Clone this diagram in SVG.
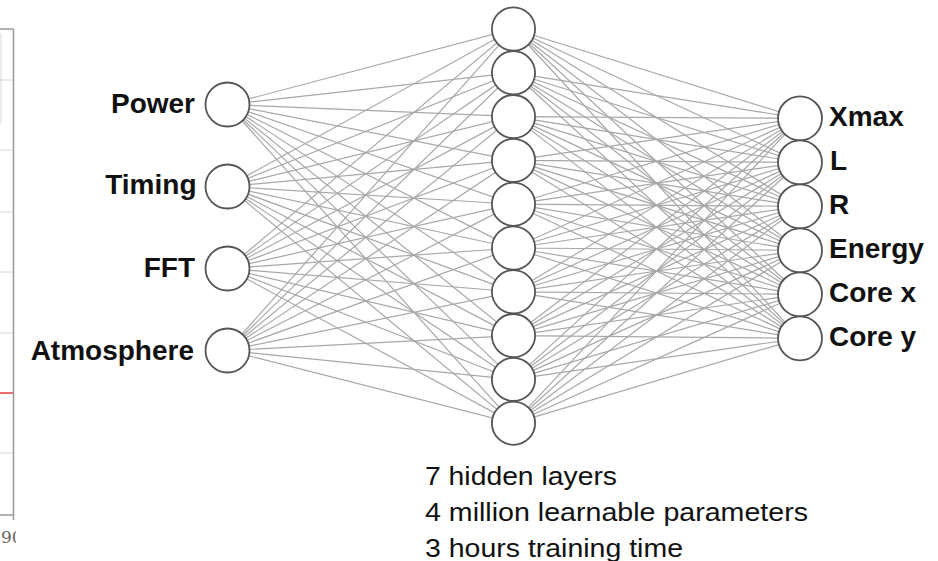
<svg xmlns="http://www.w3.org/2000/svg" width="938" height="561" viewBox="0 0 938 561">
  <style>
    .edge { stroke: #a8a8a8; stroke-width: 1.2; fill: none; }
    .node { fill: #ffffff; stroke: #555555; stroke-width: 1.8; }
    .label { font-family: "Liberation Sans", Arial, sans-serif; font-weight: bold; font-size: 28px; fill: #111111; }
    .note { font-family: "Liberation Sans", Arial, sans-serif; font-size: 25.5px; fill: #111111; }
    .grid { stroke: #d8d8d8; stroke-width: 1; }
  </style>
  <defs>
    <clipPath id="edgeClip"><rect x="0" y="0" width="16" height="561"/></clipPath>
  </defs>
  <rect width="938" height="561" fill="#ffffff"/>

  <!-- partial chart at the left edge -->
  <g id="chart-fragment">
    <rect x="-30" y="32" width="31" height="93" rx="4" fill="none" stroke="#d8d8d8" stroke-width="1"/>
    <line class="grid" x1="0" y1="80" x2="13.5" y2="80"/>
    <line class="grid" x1="0" y1="150" x2="13.5" y2="150"/>
    <line class="grid" x1="0" y1="212" x2="13.5" y2="212"/>
    <line class="grid" x1="0" y1="272" x2="13.5" y2="272"/>
    <line class="grid" x1="0" y1="333" x2="13.5" y2="333"/>
    <line class="grid" x1="0" y1="453" x2="13.5" y2="453"/>
    <line x1="0" y1="393" x2="13.5" y2="393" stroke="#ee3b3b" stroke-width="1.5"/>
    <line x1="0" y1="29" x2="13.5" y2="29" stroke="#999999" stroke-width="1.5"/>
    <line x1="13.5" y1="29" x2="13.5" y2="520" stroke="#999999" stroke-width="1.5"/>
    <line x1="0" y1="515" x2="13.5" y2="515" stroke="#999999" stroke-width="1.5"/>
    <text x="1" y="543" clip-path="url(#edgeClip)" font-family="'DejaVu Serif', serif" font-size="17" fill="#666666">90</text>
  </g>

  <!-- connections: every unit of one layer to every unit of the next -->
  <g id="connectors" class="edge">
    <path d="M227.5 104.5L513.5 29M227.5 104.5L513.5 72.8M227.5 104.5L513.5 116.6M227.5 104.5L513.5 160.4M227.5 104.5L513.5 204.2M227.5 104.5L513.5 248M227.5 104.5L513.5 291.8M227.5 104.5L513.5 335.6M227.5 104.5L513.5 379.4M227.5 104.5L513.5 423.2"/>
    <path d="M227.5 186.5L513.5 29M227.5 186.5L513.5 72.8M227.5 186.5L513.5 116.6M227.5 186.5L513.5 160.4M227.5 186.5L513.5 204.2M227.5 186.5L513.5 248M227.5 186.5L513.5 291.8M227.5 186.5L513.5 335.6M227.5 186.5L513.5 379.4M227.5 186.5L513.5 423.2"/>
    <path d="M227.5 268.5L513.5 29M227.5 268.5L513.5 72.8M227.5 268.5L513.5 116.6M227.5 268.5L513.5 160.4M227.5 268.5L513.5 204.2M227.5 268.5L513.5 248M227.5 268.5L513.5 291.8M227.5 268.5L513.5 335.6M227.5 268.5L513.5 379.4M227.5 268.5L513.5 423.2"/>
    <path d="M227.5 350.5L513.5 29M227.5 350.5L513.5 72.8M227.5 350.5L513.5 116.6M227.5 350.5L513.5 160.4M227.5 350.5L513.5 204.2M227.5 350.5L513.5 248M227.5 350.5L513.5 291.8M227.5 350.5L513.5 335.6M227.5 350.5L513.5 379.4M227.5 350.5L513.5 423.2"/>
    <path d="M513.5 29L800 118.3M513.5 29L800 162.3M513.5 29L800 206.3M513.5 29L800 250.3M513.5 29L800 294.3M513.5 29L800 338.3"/>
    <path d="M513.5 72.8L800 118.3M513.5 72.8L800 162.3M513.5 72.8L800 206.3M513.5 72.8L800 250.3M513.5 72.8L800 294.3M513.5 72.8L800 338.3"/>
    <path d="M513.5 116.6L800 118.3M513.5 116.6L800 162.3M513.5 116.6L800 206.3M513.5 116.6L800 250.3M513.5 116.6L800 294.3M513.5 116.6L800 338.3"/>
    <path d="M513.5 160.4L800 118.3M513.5 160.4L800 162.3M513.5 160.4L800 206.3M513.5 160.4L800 250.3M513.5 160.4L800 294.3M513.5 160.4L800 338.3"/>
    <path d="M513.5 204.2L800 118.3M513.5 204.2L800 162.3M513.5 204.2L800 206.3M513.5 204.2L800 250.3M513.5 204.2L800 294.3M513.5 204.2L800 338.3"/>
    <path d="M513.5 248L800 118.3M513.5 248L800 162.3M513.5 248L800 206.3M513.5 248L800 250.3M513.5 248L800 294.3M513.5 248L800 338.3"/>
    <path d="M513.5 291.8L800 118.3M513.5 291.8L800 162.3M513.5 291.8L800 206.3M513.5 291.8L800 250.3M513.5 291.8L800 294.3M513.5 291.8L800 338.3"/>
    <path d="M513.5 335.6L800 118.3M513.5 335.6L800 162.3M513.5 335.6L800 206.3M513.5 335.6L800 250.3M513.5 335.6L800 294.3M513.5 335.6L800 338.3"/>
    <path d="M513.5 379.4L800 118.3M513.5 379.4L800 162.3M513.5 379.4L800 206.3M513.5 379.4L800 250.3M513.5 379.4L800 294.3M513.5 379.4L800 338.3"/>
    <path d="M513.5 423.2L800 118.3M513.5 423.2L800 162.3M513.5 423.2L800 206.3M513.5 423.2L800 250.3M513.5 423.2L800 294.3M513.5 423.2L800 338.3"/>
  </g>

  <!-- input layer -->
  <g id="in-power"><circle class="node" cx="227.5" cy="104.5" r="22"/><text class="label" x="195" y="113" text-anchor="end">Power</text></g>
  <g id="in-timing"><circle class="node" cx="227.5" cy="186.5" r="22"/><text class="label" x="196.5" y="194" text-anchor="end">Timing</text></g>
  <g id="in-fft"><circle class="node" cx="227.5" cy="268.5" r="22"/><text class="label" x="195" y="277" text-anchor="end">FFT</text></g>
  <g id="in-atmosphere"><circle class="node" cx="227.5" cy="350.5" r="22"/><text class="label" x="194" y="359.5" text-anchor="end">Atmosphere</text></g>

  <!-- hidden layer -->
  <g id="hidden-1"><circle class="node" cx="513.5" cy="29" r="21.6"/></g>
  <g id="hidden-2"><circle class="node" cx="513.5" cy="72.8" r="21.6"/></g>
  <g id="hidden-3"><circle class="node" cx="513.5" cy="116.6" r="21.6"/></g>
  <g id="hidden-4"><circle class="node" cx="513.5" cy="160.4" r="21.6"/></g>
  <g id="hidden-5"><circle class="node" cx="513.5" cy="204.2" r="21.6"/></g>
  <g id="hidden-6"><circle class="node" cx="513.5" cy="248" r="21.6"/></g>
  <g id="hidden-7"><circle class="node" cx="513.5" cy="291.8" r="21.6"/></g>
  <g id="hidden-8"><circle class="node" cx="513.5" cy="335.6" r="21.6"/></g>
  <g id="hidden-9"><circle class="node" cx="513.5" cy="379.4" r="21.6"/></g>
  <g id="hidden-10"><circle class="node" cx="513.5" cy="423.2" r="21.6"/></g>

  <!-- output layer -->
  <g id="out-xmax"><circle class="node" cx="800" cy="118.3" r="22"/><text class="label" x="829" y="126">Xmax</text></g>
  <g id="out-l"><circle class="node" cx="800" cy="162.3" r="22"/><text class="label" x="830" y="170">L</text></g>
  <g id="out-r"><circle class="node" cx="800" cy="206.3" r="22"/><text class="label" x="829" y="214">R</text></g>
  <g id="out-energy"><circle class="node" cx="800" cy="250.3" r="22"/><text class="label" x="829" y="258">Energy</text></g>
  <g id="out-corex"><circle class="node" cx="800" cy="294.3" r="22"/><text class="label" x="829" y="302">Core x</text></g>
  <g id="out-corey"><circle class="node" cx="800" cy="338.3" r="22"/><text class="label" x="829" y="346">Core y</text></g>

  <!-- network summary -->
  <g id="summary">
    <text class="note" x="425" y="485" textLength="192" lengthAdjust="spacingAndGlyphs">7 hidden layers</text>
    <text class="note" x="425" y="521" textLength="383" lengthAdjust="spacingAndGlyphs">4 million learnable parameters</text>
    <text class="note" x="425" y="557" textLength="258" lengthAdjust="spacingAndGlyphs">3 hours training time</text>
  </g>
</svg>
